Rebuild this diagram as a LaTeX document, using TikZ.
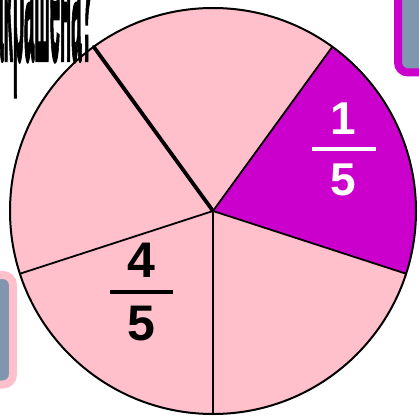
\documentclass[tikz,border=0pt]{standalone}
\usepackage{fontspec}
\setmainfont{Liberation Sans}
\newfontfamily\titlefont[FakeBold=2.5]{Liberation Sans Bold}
\usetikzlibrary{calc}
\definecolor{pinkfill}{HTML}{FFC0CB}
\definecolor{magfill}{HTML}{CC00CC}
\definecolor{boxgray}{HTML}{7F96AE}
\begin{document}
\begin{tikzpicture}[x=1pt,y=1pt,
  spoke/.style={line width=1.8pt,line cap=round},
  thickspoke/.style={line width=3.8pt,line cap=round},
  fracnum/.style={inner sep=0pt,font=\bfseries\fontsize{46}{46}\selectfont},
  fracbig/.style={inner sep=0pt,font=\bfseries\fontsize{50}{50}\selectfont},
  fracbar/.style={line width=3.2pt}]
\useasboundingbox (0,0) rectangle (419,415);
% side boxes
\draw[line width=8pt,draw=magfill,fill=boxgray,rounded corners=10pt] (398,342.5) rectangle (450,450);
\draw[line width=8pt,draw=pinkfill,fill=boxgray,rounded corners=10pt] (-40,30.5) rectangle (13,140);
% pie
\coordinate (C) at (213,204);
\fill[pinkfill] (C) circle[radius=203];
\fill[magfill] (C) -- ++(54:203) arc[start angle=54,end angle=-18,radius=203] -- cycle;
\draw[line width=2pt] (C) circle[radius=203];
\coordinate (P1) at ($(C)+(54:203)$);
\coordinate (P2) at ($(C)+(-18:203)$);
\coordinate (P3) at ($(C)+(-90:203)$);
\coordinate (P4) at ($(C)+(198:203)$);
\coordinate (P5) at ($(C)+(126:203)$);
\draw[spoke] (C) -- (P1);
\draw[spoke] (C) -- (P2);
\draw[spoke] (C) -- (P3);
\draw[spoke] (C) -- (P4);
\draw[thickspoke] (C) -- (P5);
% fractions
\node[fracnum,text=white] (n1) at (343,296) {1};
\node[fracnum,text=white] (d1) at (343,235) {5};
\draw[fracbar,white] (312,266) -- (376,266);
\node[fracbig] (n4) at (141,155) {4};
\node[fracbig] (d4) at (141,91) {5};
\draw[fracbar] (110,123) -- (173,123);
% title text (cut off at the top-left edge, as in the reference)
\node[inner sep=0pt,anchor=base east] (title) at (93,355)
  {\scalebox{0.105}[1]{\titlefont\fontsize{176}{180}\selectfont закрашена?}};
\end{tikzpicture}
\end{document}
